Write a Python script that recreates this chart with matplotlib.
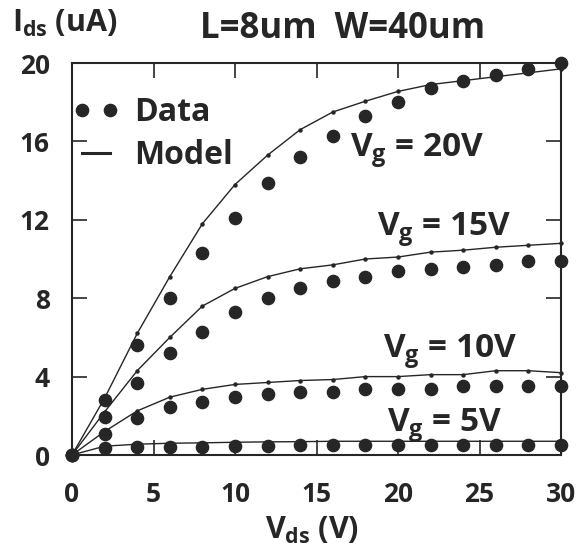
import numpy as np
import matplotlib
matplotlib.use("Agg")
import matplotlib.pyplot as plt
from matplotlib.lines import Line2D

plt.rcParams["font.family"] = ["Open Sans", "DejaVu Sans"]
plt.rcParams["font.weight"] = "bold"
plt.rcParams["mathtext.fontset"] = "custom"
plt.rcParams["mathtext.rm"] = "Open Sans:bold"
plt.rcParams["mathtext.it"] = "Open Sans:bold"
plt.rcParams["mathtext.bf"] = "Open Sans:bold"

# drain voltage sweep (V)
vds = [0, 2, 4, 6, 8, 10, 12, 14, 16, 18, 20, 22, 24, 26, 28, 30]

# measured drain current (uA) per gate voltage
data_20 = [0, 2.8, 5.6, 8.0, 10.3, 12.1, 13.9, 15.2, 16.3, 17.3, 18.0, 18.7, 19.1, 19.4, 19.7, 20.0]
data_15 = [0, 1.95, 3.65, 5.2, 6.3, 7.3, 8.0, 8.5, 8.9, 9.1, 9.4, 9.5, 9.6, 9.7, 9.9, 9.9]
data_10 = [0, 1.07, 1.9, 2.45, 2.7, 2.95, 3.1, 3.2, 3.2, 3.35, 3.35, 3.35, 3.5, 3.5, 3.5, 3.5]
data_5 = [0, 0.35, 0.4, 0.4, 0.4, 0.45, 0.45, 0.5, 0.5, 0.5, 0.5, 0.5, 0.5, 0.5, 0.5, 0.5]

# simulated drain current (uA)
model_20 = [0, 2.9, 6.2, 9.1, 11.8, 13.8, 15.3, 16.6, 17.5, 18.05, 18.55, 18.9, 19.1, 19.3, 19.5, 19.7]
model_15 = [0, 2.2, 4.3, 6.0, 7.6, 8.5, 9.1, 9.5, 9.7, 10.0, 10.1, 10.35, 10.45, 10.6, 10.7, 10.8]
model_10 = [0, 1.2, 2.25, 2.95, 3.35, 3.6, 3.7, 3.8, 3.85, 4.0, 4.0, 4.1, 4.1, 4.3, 4.3, 4.2]
model_5 = [0, 0.45, 0.55, 0.6, 0.62, 0.65, 0.67, 0.68, 0.7, 0.7, 0.7, 0.7, 0.7, 0.7, 0.7, 0.7]

gate_labels = ["20V", "15V", "10V", "5V"]
label_pos = [(17.05, 15.2), (18.7, 11.2), (19.1, 4.95), (19.3, 1.17)]

ink = "#262626"

fig = plt.figure(figsize=(5.88, 5.5), dpi=100)
ax = fig.add_axes([72 / 588, 95 / 550, 489 / 588, 392 / 550])

for d, m in [(data_20, model_20), (data_15, model_15), (data_10, model_10), (data_5, model_5)]:
    ax.plot(vds, m, color=ink, lw=1.0, marker="o", ms=2.2, clip_on=False, zorder=3)
    ax.plot(vds, d, ls="none", marker="o", ms=8.8, color=ink, clip_on=False, zorder=4)

for lab, (x, y) in zip(gate_labels, label_pos):
    ax.text(x, y, "$V_g$ = " + lab, fontsize=24, color=ink, ha="left", va="baseline")

ax.set_xlim(0, 30)
ax.set_ylim(0, 20)
ax.set_xticks([0, 5, 10, 15, 20, 25, 30])
ax.set_yticks([0, 4, 8, 12, 16, 20])
ax.tick_params(axis="both", direction="in", length=11, width=1.2, colors=ink,
               labelsize=19, top=True, right=True)
ax.tick_params(axis="x", pad=19)
ax.tick_params(axis="y", pad=16)
for lbl in ax.get_xticklabels() + ax.get_yticklabels():
    lbl.set_fontweight("bold")
for sp in ax.spines.values():
    sp.set_linewidth(1.5)
    sp.set_color(ink)

handles = [
    Line2D([], [], ls="none", marker="o", ms=8.8, color=ink),
    Line2D([], [], color=ink, lw=2.2),
]
ax.legend(handles, ["Data", "Model"], loc="upper left", bbox_to_anchor=(0.0, 0.915),
          frameon=False, numpoints=2, handlelength=1.5, handletextpad=0.45,
          labelspacing=0.3, borderpad=0, borderaxespad=0.0,
          prop={"size": 23, "weight": "bold"}, labelcolor=ink)

fig.text(343 / 588, 1 - 38 / 550, "L=8um  W=40um", fontsize=25, color=ink,
         ha="center", va="baseline")
fig.text(12 / 588, 1 - 32 / 550, "$I_{ds}$ (uA)", fontsize=22, color=ink,
         ha="left", va="baseline")
fig.text(312 / 588, 1 - 539 / 550, "$V_{ds}$ (V)", fontsize=22, color=ink,
         ha="center", va="baseline")

fig.savefig("out.png", dpi=100)
